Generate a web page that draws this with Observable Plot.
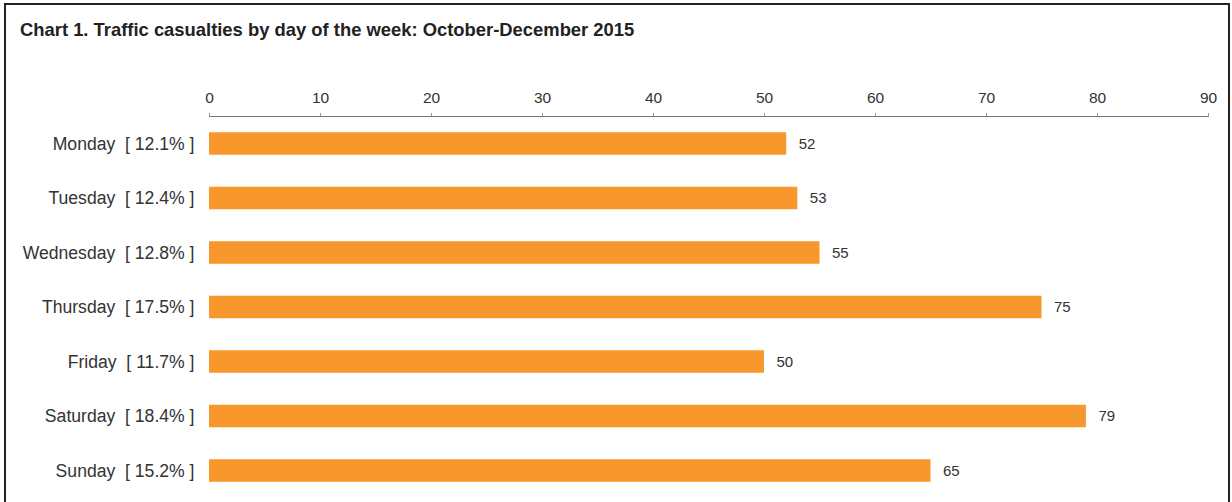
<!DOCTYPE html>
<html>
<head>
<meta charset="utf-8">
<script src="https://cdn.jsdelivr.net/npm/d3@7"></script>
<script src="https://cdn.jsdelivr.net/npm/@observablehq/plot@0.6"></script>
<style>
  html, body { margin: 0; padding: 0; background: #fff; }
  #wrap { position: relative; width: 1232px; height: 502px; overflow: hidden; font-family: "Liberation Sans", Arial, sans-serif; }
  #box { position: absolute; left: 4px; top: 3px; width: 1226px; height: 540px; border: 2px solid #222; box-sizing: border-box; }
  #title { position: absolute; left: 20px; top: 19px; font-size: 18.4px; font-weight: bold; color: #222; white-space: nowrap; }
  #chart { position: absolute; left: 0; top: 0; }
  #chart text { white-space: pre; }
</style>
</head>
<body>
<div id="wrap">
  <div id="box"></div>
  <div id="title">Chart 1. Traffic casualties by day of the week: October-December 2015</div>
  <div id="chart"></div>
</div>
<script>
const days = ["Monday", "Tuesday", "Wednesday", "Thursday", "Friday", "Saturday", "Sunday"];
const shares = ["12.1%", "12.4%", "12.8%", "17.5%", "11.7%", "18.4%", "15.2%"];
const values = [52, 53, 55, 75, 50, 79, 65];
const xTicks = [0, 10, 20, 30, 40, 50, 60, 70, 80, 90];

const data = days.map((d, i) => ({day: d, label: `${d}  [ ${shares[i]} ]`, value: values[i]}));
const labels = data.map(d => d.label);

const chart = Plot.plot({
  width: 1232,
  height: 502,
  marginLeft: 209,
  marginRight: 24,
  marginTop: 116,
  marginBottom: 4,
  style: {fontFamily: "'Liberation Sans', Arial, sans-serif", background: "transparent", overflow: "visible"},
  x: {domain: [0, 90], axis: null, label: null},
  y: {domain: labels, paddingInner: 0.587, paddingOuter: 0.298, round: false, axis: null, label: null},
  marks: [
    Plot.axisX({anchor: "top", ticks: xTicks, tickFormat: d => String(d), tickSize: 4, tickPadding: 10, stroke: "#999", fill: "#333", fontSize: 15.5, label: null}),
    Plot.frame({anchor: "top", stroke: "#777"}),
    Plot.axisY({tickSize: 0, tickPadding: 15, fill: "#333", fontSize: 17.6, label: null}),
    Plot.barX(data, {x: "value", y: "label", fill: "#F8972C"}),
    Plot.text(data, {x: "value", y: "label", text: d => String(d.value), dx: 12, textAnchor: "start", fill: "#333", fontSize: 15})
  ]
});
document.getElementById("chart").appendChild(chart);
</script>
</body>
</html>
